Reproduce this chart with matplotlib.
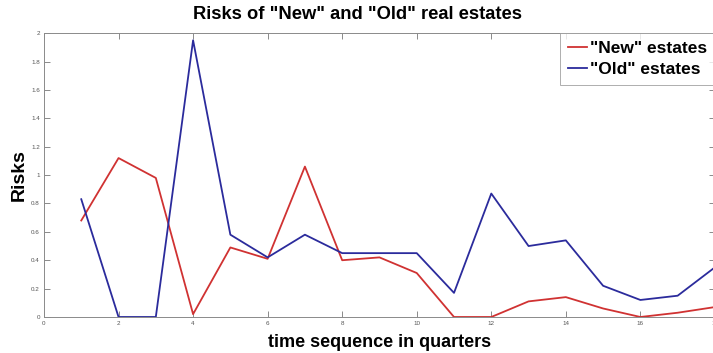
"""Quarterly risk of "new" vs "old" real estates."""
import matplotlib
matplotlib.use("Agg")
import matplotlib.pyplot as plt

quarters = list(range(1, 19))
risk_new = [0.68, 1.12, 0.98, 0.02, 0.49, 0.41, 1.06, 0.40, 0.42,
            0.31, 0.0, 0.0, 0.11, 0.14, 0.06, 0.0, 0.03, 0.07]
risk_old = [0.83, 0.0, 0.0, 1.95, 0.58, 0.42, 0.58, 0.45, 0.45,
            0.45, 0.17, 0.87, 0.50, 0.54, 0.22, 0.12, 0.15, 0.35]

xticks = list(range(0, 19, 2))
yticks = [0, 0.2, 0.4, 0.6, 0.8, 1, 1.2, 1.4, 1.6, 1.8, 2]

plt.rcParams["font.family"] = ["Liberation Sans", "DejaVu Sans"]

fig = plt.figure(figsize=(7.13, 3.53), dpi=100)
ax = fig.add_axes([0.0617, 0.102, 0.941, 0.804])

ax.plot(quarters, risk_new, color="#d03232", lw=1.3, label='"New" estates')
ax.plot(quarters, risk_old, color="#2b2b9c", lw=1.3, label='"Old" estates')

ax.set_xlim(0, 18)
ax.set_ylim(0, 2)
ax.set_xticks(xticks)
ax.set_xticklabels([str(t) for t in xticks])
ax.set_yticks(yticks)
ax.set_yticklabels([f"{t:g}" for t in yticks])
ax.tick_params(direction="in", top=True, right=True, length=4, width=0.6,
               color="#777777", labelsize=4.5, labelcolor="#555555", pad=3)
for sp in ax.spines.values():
    sp.set_color("#8a8a8a")
    sp.set_linewidth(0.7)

ax.set_title('Risks of "New" and "Old" real estates', fontsize=13.2,
             fontweight="bold", x=0.468, pad=10)
ax.set_xlabel("time sequence in quarters", fontsize=13, fontweight="bold",
              labelpad=6)
ax.set_ylabel("Risks", fontsize=14, fontweight="bold")
ax.yaxis.set_label_coords(-0.024, 0.5)

leg = ax.legend(loc="upper right", bbox_to_anchor=(1.0, 1.0), borderaxespad=0,
                fancybox=False, handlelength=1.1, handletextpad=0.15,
                borderpad=0.45, labelspacing=0.35,
                prop={"size": 12.5, "weight": "bold"})
leg.get_frame().set_edgecolor("#999999")
leg.get_frame().set_linewidth(0.7)

fig.savefig("out.png", dpi=100)
